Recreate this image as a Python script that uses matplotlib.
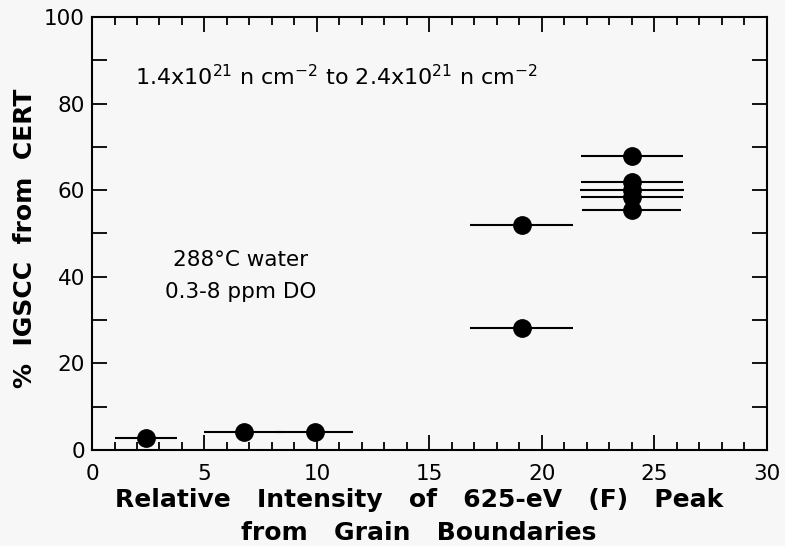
import matplotlib
matplotlib.use('Agg')
import matplotlib.pyplot as plt
from matplotlib.ticker import MultipleLocator

# Data
x_vals = [2.4, 6.75, 9.9, 19.1, 19.1, 24.0, 24.0, 24.0, 24.0, 24.0]
y_vals = [2.8, 4.2, 4.2, 52.0, 28.2, 67.9, 61.8, 60.0, 58.4, 55.4]
x_err = [1.4, 1.75, 1.7, 2.3, 2.3, 2.25, 2.25, 2.3, 2.25, 2.2]

x_ticks = [0, 5, 10, 15, 20, 25, 30]
y_ticks = [0, 20, 40, 60, 80, 100]

plt.rcParams['font.family'] = ['DejaVu Sans']
plt.rcParams['mathtext.default'] = 'regular'

bg = '#f7f7f7'
fig = plt.figure(figsize=(7.85, 5.46), dpi=100, facecolor=bg)
ax = fig.add_axes([0.1172, 0.1758, 0.8598, 0.7931])
ax.set_facecolor(bg)

ax.errorbar(x_vals, y_vals, xerr=x_err, fmt='o', color='black',
            markersize=12.5, elinewidth=1.5, capsize=0, zorder=3)

ax.set_xlim(0, 30)
ax.set_ylim(0, 100)
ax.set_xticks(x_ticks)
ax.set_yticks(y_ticks)
ax.xaxis.set_minor_locator(MultipleLocator(1))
ax.yaxis.set_minor_locator(MultipleLocator(10))
ax.tick_params(which='both', direction='in', top=True, right=True, width=1.3,
               labelsize=15.5)
ax.tick_params(axis='x', which='major', length=11, pad=10)
ax.tick_params(axis='x', which='minor', length=6)
ax.tick_params(axis='y', which='both', length=11, pad=5)
for s in ax.spines.values():
    s.set_linewidth(1.5)

ax.set_xlabel('Relative   Intensity   of   625-eV   (F)   Peak\nfrom   Grain   Boundaries',
              fontsize=18, fontweight='bold', linespacing=1.45)
ax.xaxis.label.set_va('center')
ax.xaxis.set_label_coords(0.484, -0.153)
ax.set_ylabel('%  IGSCC  from  CERT', fontsize=18, fontweight='bold')
ax.yaxis.label.set_va('center')
ax.yaxis.label.set_ha('center')
ax.yaxis.set_label_coords(-0.099, 0.49)

ax.text(1.9, 86.6, r'1.4x10$^{21}$ n cm$^{-2}$ to 2.4x10$^{21}$ n cm$^{-2}$',
        fontsize=16, ha='left', va='center_baseline')
ax.text(6.62, 40.2, '288°C water\n0.3-8 ppm DO', fontsize=15.5, ha='center',
        va='center', linespacing=1.7)

fig.savefig('out.png', dpi=100, facecolor=bg)
